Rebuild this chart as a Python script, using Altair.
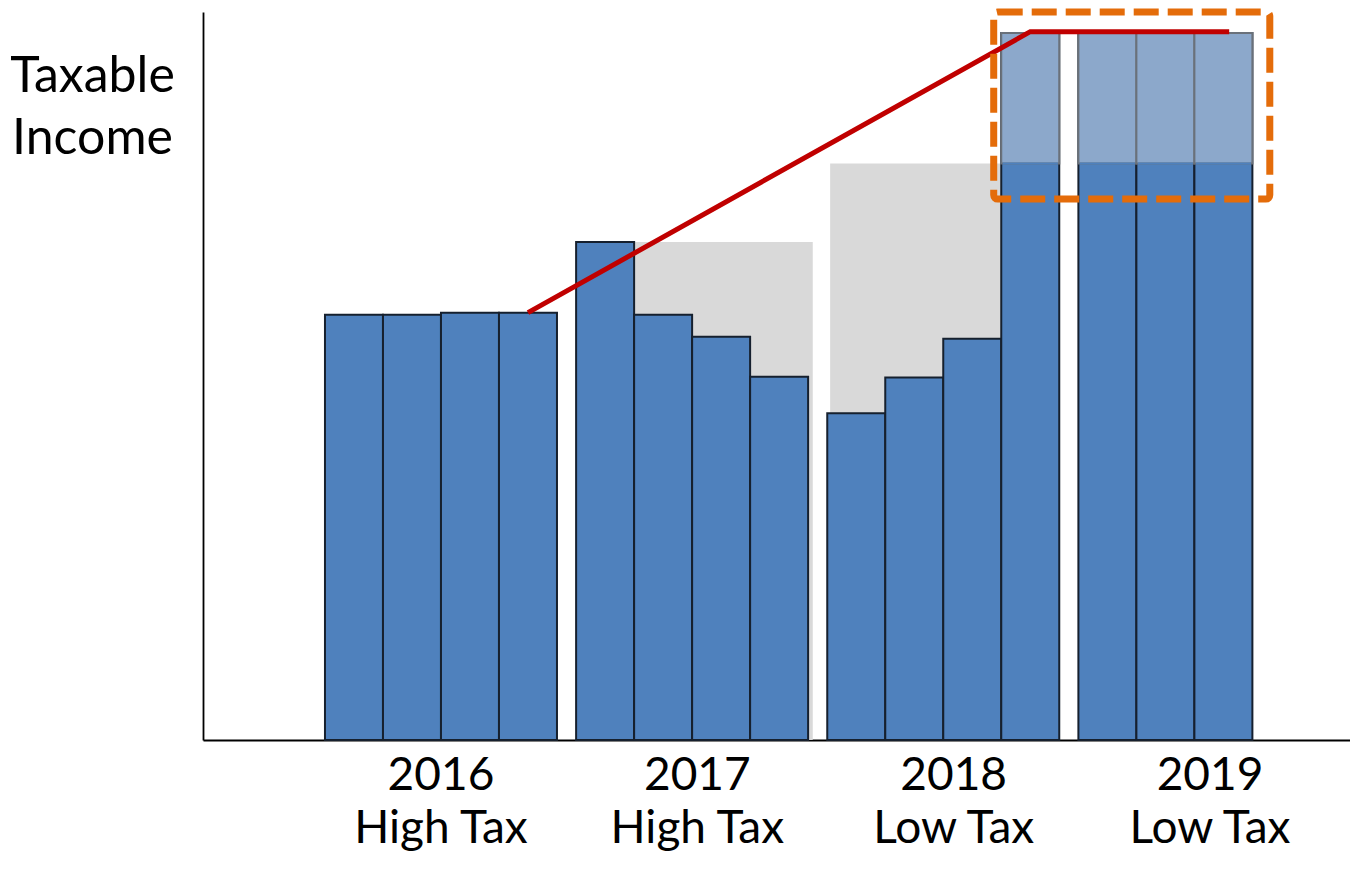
import altair as alt
import pandas as pd

# ---------------- data ----------------
years = ["2016", "2017", "2018", "2019"]
regimes = ["High Tax", "High Tax", "Low Tax", "Low Tax"]
income_2016 = [58.4, 58.4, 58.7, 58.7]
income_2017 = [68.4, 58.4, 55.4, 49.9]
income_2018 = [44.9, 49.8, 55.1, 97.1]
income_2019 = [97.1, 97.1, 97.1]
quarterly_income = [income_2016, income_2017, income_2018, income_2019]
underlying_level = 79.2          # level below the shifted (light) part
axis_title = ["Taxable", "Income"]

# layout constants (in bar-width units)
YEAR_GAP = 0.33
LABEL_STEP = 4.42

# ---------------- tables ----------------
rows = []
for i, vals in enumerate(quarterly_income):
    for q, v in enumerate(vals):
        start = i * (4 + YEAR_GAP) + q
        rows.append(dict(year=years[i], q=q, start=start, end=start + 1,
                         center=start + 0.5, value=v, zero=0.0,
                         split=underlying_level, tall=v > underlying_level))
bars = pd.DataFrame(rows)
tall = bars[bars["tall"]].copy()
tall["c0"] = underlying_level - 0.15
tall["c1"] = underlying_level + 0.11


def bar(y, q):
    return bars[(bars["year"] == y) & (bars["q"] == q)].iloc[0]


shade = pd.DataFrame([
    dict(x0=bar("2017", 1)["start"], x1=bar("2017", 3)["end"] + 0.08,
         level=bar("2017", 0)["value"], zero=0.0),
    dict(x0=bar("2018", 0)["start"] + 0.05, x1=bar("2018", 2)["end"],
         level=underlying_level, zero=0.0),
])

trend = pd.DataFrame([
    dict(order=0, x=bar("2016", 3)["center"], y=bar("2016", 3)["value"]),
    dict(order=1, x=bar("2018", 3)["center"], y=bar("2018", 3)["value"] + 0.2),
    dict(order=2, x=bar("2019", 2)["center"] + 0.1, y=bar("2019", 2)["value"] + 0.2),
])

box = pd.DataFrame([dict(
    x0=bar("2018", 3)["start"] - 0.13, x1=bar("2019", 2)["end"] + 0.3,
    y0=underlying_level - 4.9, y1=bar("2019", 2)["value"] + 2.9)])

labels = pd.DataFrame([dict(lx=2 + i * LABEL_STEP, text=f"{y}\n{r}")
                       for i, (y, r) in enumerate(zip(years, regimes))])

# ---------------- scales ----------------
PLOT_W = 1147
UNIT_PX = 58.0
X0 = -2.103
x_scale = alt.Scale(domain=[X0, X0 + PLOT_W / UNIT_PX], nice=False, zero=False)
y_scale = alt.Scale(domain=[0, 100], nice=False, zero=False)

FONT = "Lato"
BLUE = "#4F81BD"

shade_layer = alt.Chart(shade).mark_rect(color="#D9D9D9").encode(
    x=alt.X("x0:Q", scale=x_scale,
            axis=alt.Axis(domain=True, domainColor="black", domainWidth=1.8,
                          ticks=False, labels=False, grid=False, title=None)),
    x2="x1:Q",
    y=alt.Y("zero:Q", scale=y_scale,
            axis=alt.Axis(domain=True, domainColor="black", domainWidth=1.8,
                          ticks=False, labels=False, grid=False,
                          title=axis_title, titleAngle=0, titleX=-111,
                          titleY=79, titleAlign="center",
                          titleBaseline="alphabetic", titleFontSize=50,
                          titleFont=FONT, titleFontWeight="normal",
                          titleColor="black", titleLineHeight=62)),
    y2="level:Q",
)

bar_layer = alt.Chart(bars).mark_rect(
    fill=BLUE, stroke="#16202E", strokeWidth=2).encode(
    x=alt.X("start:Q", scale=x_scale), x2="end:Q",
    y=alt.Y("zero:Q", scale=y_scale), y2="value:Q")

light_layer = alt.Chart(tall).mark_rect(
    fill="#8CA8CB", stroke="#6A717A", strokeWidth=2).encode(
    x=alt.X("start:Q", scale=x_scale), x2="end:Q",
    y=alt.Y("split:Q", scale=y_scale), y2="value:Q")

cover_layer = alt.Chart(tall).mark_rect(
    fill=BLUE, xOffset=1.4, x2Offset=-1.4).encode(
    x=alt.X("start:Q", scale=x_scale), x2="end:Q",
    y=alt.Y("c0:Q", scale=y_scale), y2="c1:Q")

line_layer = alt.Chart(trend).mark_line(
    color="#C00000", strokeWidth=5).encode(
    x=alt.X("x:Q", scale=x_scale), y=alt.Y("y:Q", scale=y_scale),
    order="order:Q")

box_layer = alt.Chart(box).mark_rect(
    fillOpacity=0, stroke="#E46C0A", strokeWidth=7,
    strokeDash=[25, 9], cornerRadius=4).encode(
    x=alt.X("x0:Q", scale=x_scale), x2="x1:Q",
    y=alt.Y("y0:Q", scale=y_scale), y2="y1:Q")

label_layer = alt.Chart(labels).mark_text(
    font=FONT, fontSize=46, lineBreak="\n", lineHeight=53, align="center",
    baseline="alphabetic", color="black").encode(
    x=alt.X("lx:Q", scale=x_scale), y=alt.value(778), text="text:N")

chart = alt.layer(
    shade_layer, bar_layer, light_layer, cover_layer, line_layer,
    box_layer, label_layer
).properties(
    width=PLOT_W, height=728,
    padding={"left": 195, "top": 4, "right": 0, "bottom": 114},
    autosize="none",
).configure_view(stroke=None)

chart.save("out.html", embed_options={"renderer": "svg", "actions": False})
